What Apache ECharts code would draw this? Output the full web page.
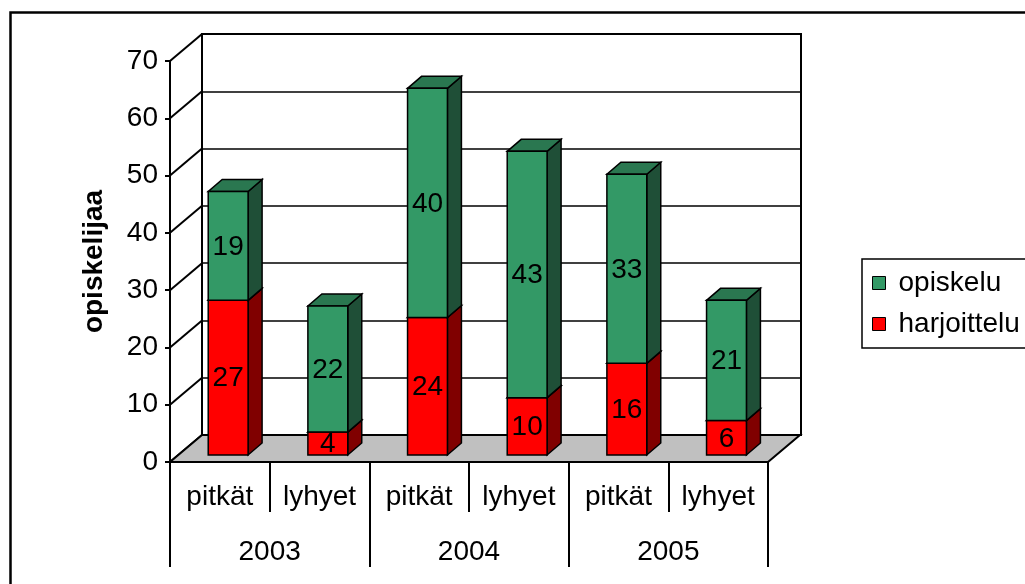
<!DOCTYPE html>
<html>
<head>
<meta charset="utf-8">
<script src="https://cdn.jsdelivr.net/npm/echarts@6/dist/echarts.min.js"></script>
<style>
  html, body { margin: 0; padding: 0; background: #fff; }
  #chart { width: 1025px; height: 584px; }
</style>
</head>
<body>
<div id="chart"></div>
<script>
const kinds = ['pitkät', 'lyhyet', 'pitkät', 'lyhyet', 'pitkät', 'lyhyet'];
const years = ['2003', '2004', '2005'];
const harjoittelu = [27, 4, 24, 10, 16, 6];
const opiskelu = [19, 22, 40, 43, 33, 21];
const yTicks = [0, 10, 20, 30, 40, 50, 60, 70];

const FONT = 'Liberation Sans, Arial, sans-serif';
const FS = 28;
// depth of the 3D box (pixels) and where the bars sit inside it
const DX = 32, DY = -27;
const D0 = 0.26;
const BX = 14, BY = -12;

const myChart = echarts.init(document.getElementById('chart'));

function barItem(base, front, side, top) {
  return function (params, api) {
    const i = api.value(0);
    const v = api.value(1);
    const lo = base ? base[i] : 0;
    const hi = lo + v;
    const cx = api.coord([i, 0])[0] + D0 * DX;
    const w = api.size([1, 0])[0] * 0.4;
    const xl = cx - w / 2, xr = cx + w / 2;
    const yb = api.coord([i, lo])[1] + D0 * DY;
    const yt = api.coord([i, hi])[1] + D0 * DY;
    const stroke = { stroke: '#000', lineWidth: 1.5 };
    return {
      type: 'group',
      children: [
        { type: 'polygon', shape: { points: [[xr, yt], [xr + BX, yt + BY], [xr + BX, yb + BY], [xr, yb]] },
          style: Object.assign({ fill: side }, stroke) },
        { type: 'polygon', shape: { points: [[xl, yt], [xr, yt], [xr + BX, yt + BY], [xl + BX, yt + BY]] },
          style: Object.assign({ fill: top }, stroke) },
        { type: 'rect', shape: { x: xl, y: yt, width: w, height: yb - yt },
          style: Object.assign({ fill: front }, stroke) },
        { type: 'text', style: { text: String(v), x: cx, y: (yb + yt) / 2 + 1, align: 'center',
          verticalAlign: 'middle', fontSize: FS, fontFamily: FONT, fill: '#000' } }
      ]
    };
  };
}

const option = {
  backgroundColor: '#fff',
  animation: false,
  graphic: [{
    type: 'rect', left: 8, top: 10, z: -10,
    shape: { width: 1100, height: 700 },
    style: { fill: 'none', stroke: '#000', lineWidth: 2.5 }
  }],
  legend: {
    orient: 'vertical',
    left: 862, top: 259,
    padding: [10, 10, 10, 10],
    itemGap: 13,
    itemWidth: 13, itemHeight: 13,
    borderColor: '#000', borderWidth: 1.5,
    backgroundColor: '#fff',
    data: [{ name: 'opiskelu', icon: 'rect' }, { name: 'harjoittelu', icon: 'rect' }],
    itemStyle: { borderColor: '#000', borderWidth: 1 },
    textStyle: { fontSize: FS, fontFamily: FONT, color: '#000', padding: [0, 0, 0, 8] }
  },
  grid: [
    { left: 170, right: 257, top: 61, bottom: 122 },
    { left: 202, right: 224, top: 34, bottom: 149, show: true, borderColor: '#000', borderWidth: 2, backgroundColor: '#fff', z: -1 }
  ],
  xAxis: [
    {
      type: 'category', gridIndex: 0, data: kinds, position: 'bottom',
      axisLine: { show: true, lineStyle: { color: '#000', width: 2 } },
      axisTick: { show: true, length: 50, interval: 0, lineStyle: { color: '#000', width: 2 } },
      axisLabel: { fontSize: FS, fontFamily: FONT, color: '#000', margin: 21, interval: 0 }
    },
    {
      type: 'category', gridIndex: 0, data: years, position: 'bottom',
      axisLine: { show: false },
      axisTick: { show: true, length: 105, interval: 0, lineStyle: { color: '#000', width: 2 } },
      axisLabel: { fontSize: FS, fontFamily: FONT, color: '#000', margin: 76, interval: 0 }
    },
    { type: 'value', gridIndex: 1, min: 0, max: 1, show: false }
  ],
  yAxis: [
    {
      type: 'value', gridIndex: 0, min: 0, max: 70, interval: 10,
      name: 'opiskelijaa', nameLocation: 'middle', nameGap: 62, nameRotate: 90,
      nameTextStyle: { fontSize: FS, fontWeight: 'bold', fontFamily: FONT, color: '#000' },
      axisLine: { show: true, lineStyle: { color: '#000', width: 2 } },
      axisTick: { show: true, length: 5, lineStyle: { color: '#000', width: 2 } },
      axisLabel: { fontSize: FS, fontFamily: FONT, color: '#000', margin: 12 },
      splitLine: { show: false }
    },
    {
      type: 'value', gridIndex: 1, min: 0, max: 70, interval: 10,
      axisLine: { show: false }, axisTick: { show: false }, axisLabel: { show: false },
      splitLine: { show: true, lineStyle: { color: '#000', width: 1.5 } }
    }
  ],
  series: [
    {
      // side wall lines
      type: 'custom', xAxisIndex: 0, yAxisIndex: 0, silent: true,
      data: yTicks.map(v => [0, v]),
      renderItem: function (params, api) {
        const x = params.coordSys.x;
        const y = api.coord([0, api.value(1)])[1];
        return { type: 'line', shape: { x1: x, y1: y, x2: x + DX, y2: y + DY },
          style: { stroke: '#000', lineWidth: 2 } };
      }
    },
    {
      // floor
      type: 'custom', xAxisIndex: 0, yAxisIndex: 0, silent: true,
      data: [[0, 0]],
      renderItem: function (params, api) {
        const cs = params.coordSys;
        const y = api.coord([0, 0])[1];
        const x0 = cs.x, x1 = cs.x + cs.width;
        return { type: 'polygon',
          shape: { points: [[x0, y], [x1, y], [x1 + DX, y + DY], [x0 + DX, y + DY]] },
          style: { fill: '#c0c0c0', stroke: '#000', lineWidth: 2 } };
      }
    },
    {
      name: 'harjoittelu', type: 'custom', xAxisIndex: 0, yAxisIndex: 0,
      itemStyle: { color: '#ff0000' },
      data: harjoittelu.map((v, i) => [i, v]),
      renderItem: barItem(null, '#ff0000', '#800000', '#cc0000')
    },
    {
      name: 'opiskelu', type: 'custom', xAxisIndex: 0, yAxisIndex: 0,
      itemStyle: { color: '#339966' },
      data: opiskelu.map((v, i) => [i, v]),
      renderItem: barItem(harjoittelu, '#339966', '#1f4f37', '#2a7750')
    }
  ]
};

option && myChart.setOption(option);
</script>
</body>
</html>
